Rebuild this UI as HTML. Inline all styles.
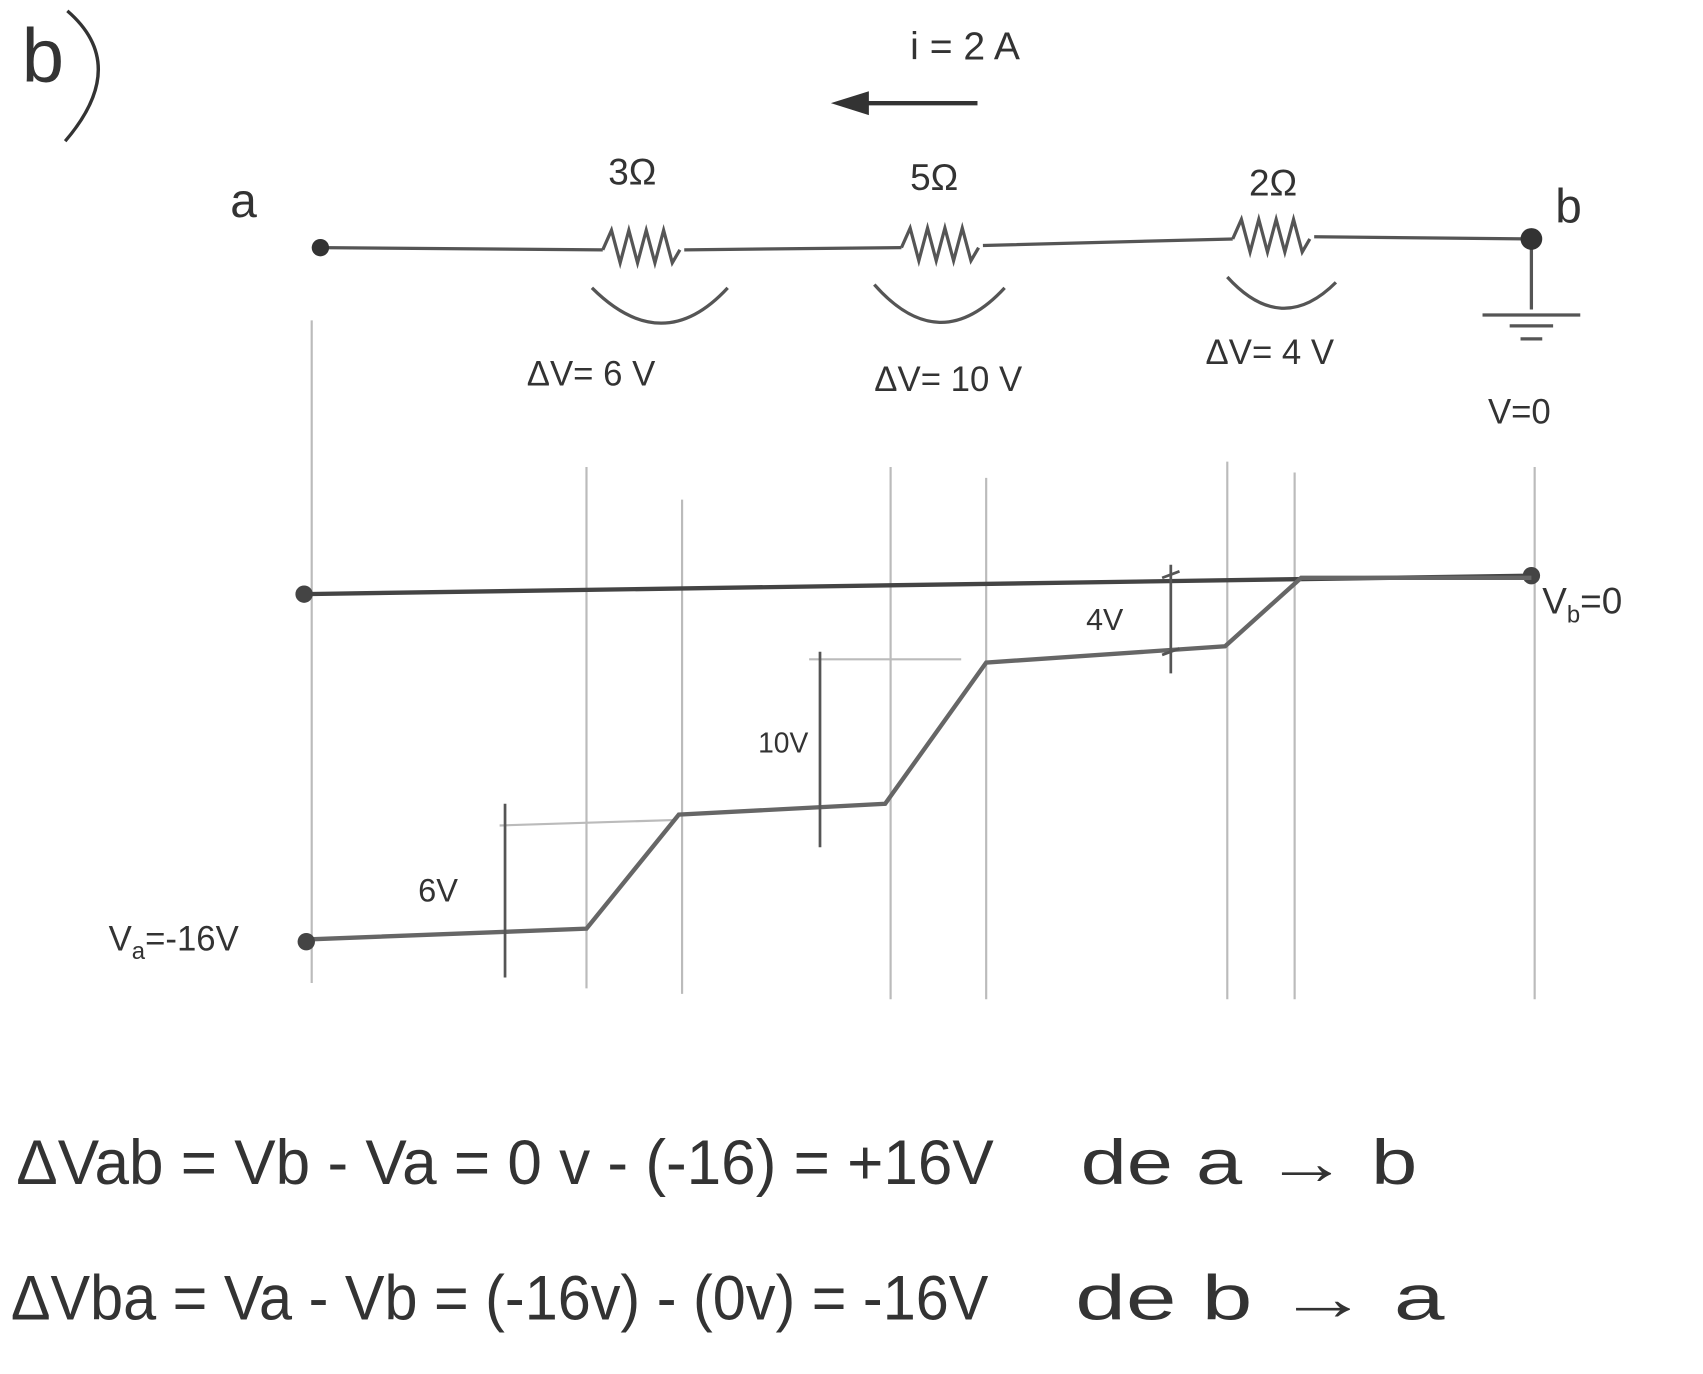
<!DOCTYPE html>
<html><head><meta charset="utf-8"><style>
html,body{margin:0;padding:0;background:#fff;}
svg{display:block;}
text{font-family:"Liberation Sans",sans-serif;fill:#333;}
</style></head><body>
<svg width="1703" height="1374" viewBox="0 0 1568 1265" preserveAspectRatio="none" xmlns="http://www.w3.org/2000/svg">
<rect width="1568" height="1265" fill="#fff"/>
<text x="20" y="75" font-size="70">b</text>
<path d="M62 10 Q120 60 60 130" fill="none" stroke="#333" stroke-width="3"/>
<text x="838" y="55" font-size="36">i = 2 A</text>
<line x1="900" y1="95" x2="790" y2="95" stroke="#333" stroke-width="4"/>
<polygon points="765,95 800,84 800,106" fill="#333"/>
<text x="212" y="200" font-size="44">a</text>
<text x="1432" y="205" font-size="44">b</text>
<text x="560" y="170" font-size="34">3Ω</text>
<text x="838" y="175" font-size="34">5Ω</text>
<text x="1150" y="180" font-size="34">2Ω</text>
<g stroke="#555" stroke-width="3" fill="none">
<path d="M295 228 L555 230 M630 230 L830 228 M905 226 L1135 220 M1210 218 L1410 220"/>
<path d="M555 230 l8 -18 l8 30 l8 -30 l8 30 l8 -30 l8 30 l8 -30 l8 30 l7 -12"/>
<path d="M830 228 l8 -18 l8 30 l8 -30 l8 30 l8 -30 l8 30 l8 -30 l8 30 l7 -12"/>
<path d="M1135 220 l8 -18 l8 30 l8 -30 l8 30 l8 -30 l8 30 l8 -30 l8 30 l7 -12"/>
<path d="M545 265 Q610 330 670 265"/>
<path d="M805 262 Q865 330 925 265"/>
<path d="M1130 255 Q1180 310 1230 260"/>
<path d="M1410 220 L1410 285 M1365 290 L1455 290 M1390 300 L1430 300 M1400 312 L1420 312"/>
</g>
<circle cx="295" cy="228" r="8" fill="#333"/>
<circle cx="1410" cy="220" r="10" fill="#333"/>
<text x="485" y="355" font-size="32">ΔV= 6 V</text>
<text x="805" y="360" font-size="32">ΔV= 10 V</text>
<text x="1110" y="335" font-size="32">ΔV= 4 V</text>
<text x="1370" y="390" font-size="32">V=0</text>
<g stroke="#bbb" stroke-width="2">
<line x1="287" y1="295" x2="287" y2="905"/>
<line x1="540" y1="430" x2="540" y2="910"/>
<line x1="628" y1="460" x2="628" y2="915"/>
<line x1="820" y1="430" x2="820" y2="920"/>
<line x1="908" y1="440" x2="908" y2="920"/>
<line x1="1130" y1="425" x2="1130" y2="920"/>
<line x1="1192" y1="435" x2="1192" y2="920"/>
<line x1="1413" y1="430" x2="1413" y2="920"/>
<line x1="460" y1="760" x2="620" y2="755"/>
<line x1="745" y1="607" x2="885" y2="607"/>
</g>
<path d="M280 547 L1410 530" stroke="#444" stroke-width="4"/>
<circle cx="280" cy="547" r="8" fill="#444"/>
<circle cx="1410" cy="530" r="8" fill="#444"/>
<text x="1420" y="565" font-size="34">V<tspan font-size="22" dy="8">b</tspan><tspan dy="-8">=0</tspan></text>
<path d="M280 865 L540 855 L625 750 L815 740 L908 610 L1128 595 L1198 532 L1410 532" stroke="#666" stroke-width="4" fill="none"/>
<circle cx="282" cy="867" r="8" fill="#444"/>
<g stroke="#555" stroke-width="2.5">
<line x1="465" y1="740" x2="465" y2="900"/>
<line x1="755" y1="600" x2="755" y2="780"/>
<line x1="1078" y1="520" x2="1078" y2="620"/>
<line x1="1070" y1="532" x2="1086" y2="526"/>
<line x1="1070" y1="603" x2="1086" y2="597"/>
</g>
<text x="385" y="830" font-size="30">6V</text>
<text x="698" y="693" font-size="26">10V</text>
<text x="1000" y="580" font-size="28">4V</text>
<text x="100" y="875" font-size="32">V<tspan font-size="22" dy="8">a</tspan><tspan dy="-8">=-16V</tspan></text>
<text x="15" y="1090" font-size="58" textLength="900" lengthAdjust="spacingAndGlyphs">ΔVab = Vb - Va = 0 v - (-16) = +16V</text>
<text x="995" y="1090" font-size="58" textLength="310" lengthAdjust="spacingAndGlyphs">de  a → b</text>
<text x="10" y="1215" font-size="58" textLength="900" lengthAdjust="spacingAndGlyphs">ΔVba = Va - Vb = (-16v) - (0v) = -16V</text>
<text x="990" y="1215" font-size="58" textLength="340" lengthAdjust="spacingAndGlyphs">de  b → a</text>
</svg>
</body></html>
